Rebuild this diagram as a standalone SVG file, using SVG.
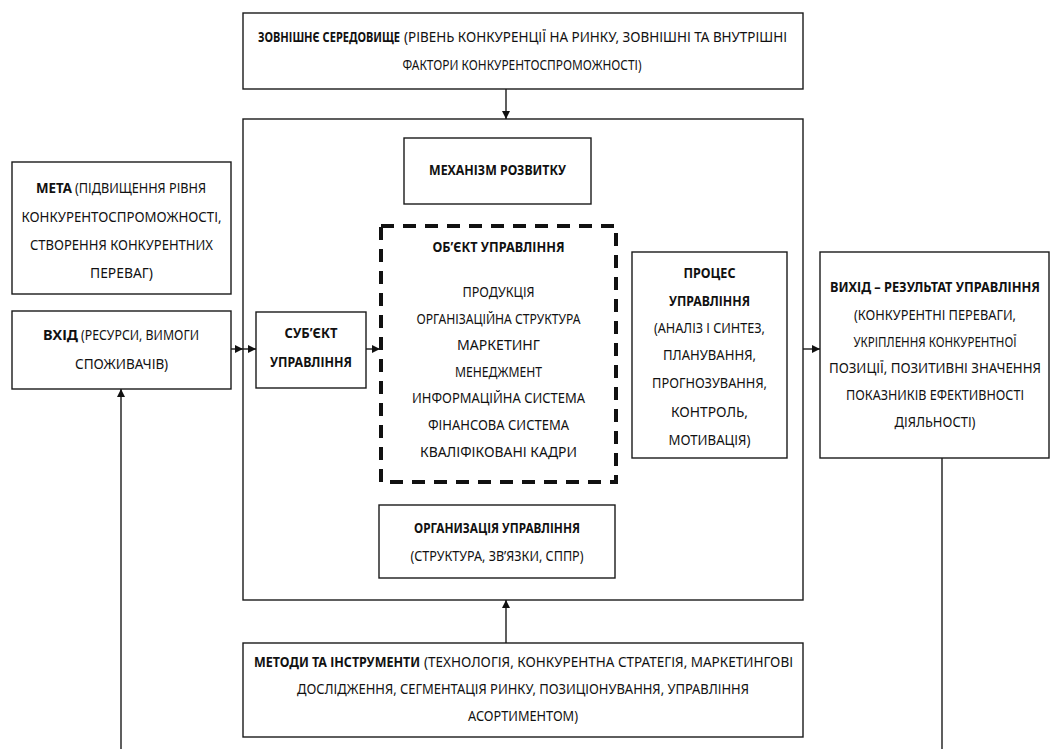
<svg xmlns="http://www.w3.org/2000/svg" width="1053" height="749" viewBox="0 0 1053 749">
<defs>
<style>
.box{fill:#fff;stroke:#1a1a1a;stroke-width:1.4}
.dash{fill:none;stroke:#111;stroke-width:4;stroke-dasharray:13 9}
.ln{fill:none;stroke:#1a1a1a;stroke-width:1.4}
text{font-family:"Noto Sans","DejaVu Sans Condensed",sans-serif;font-stretch:condensed;font-size:14px;fill:#111;text-anchor:middle}
.b{font-weight:bold}
.s{text-anchor:start}
</style>
<marker id="ah" viewBox="0 0 10 10" refX="10" refY="5" markerWidth="8" markerHeight="8" markerUnits="userSpaceOnUse" orient="auto">
<path d="M0,0 L10,5 L0,10 z" fill="#111"/>
</marker>
</defs>
<rect width="1053" height="749" fill="#fff"/>

<g id="main">
<rect class="box" x="243" y="119" width="560" height="481"/>
</g>

<g id="env">
<rect class="box" x="243" y="13" width="560" height="76"/>
<text class="b s" transform="translate(258,42) scale(0.78,1)" x="0" y="0" textLength="182" lengthAdjust="spacingAndGlyphs">ЗОВНІШНЄ СЕРЕДОВИЩЕ</text>
<text class="s" x="404" y="42" textLength="383" lengthAdjust="spacingAndGlyphs">(РІВЕНЬ КОНКУРЕНЦІЇ НА РИНКУ, ЗОВНІШНІ ТА ВНУТРІШНІ</text>
<text x="522" y="70" textLength="239" lengthAdjust="spacingAndGlyphs">ФАКТОРИ КОНКУРЕНТОСПРОМОЖНОСТІ)</text>
</g>

<g id="goal">
<rect class="box" x="12" y="162" width="219" height="132"/>
<text class="b s" x="36" y="193" textLength="36" lengthAdjust="spacingAndGlyphs">МЕТА</text>
<text class="s" x="75" y="193" textLength="131" lengthAdjust="spacingAndGlyphs">(ПІДВИЩЕННЯ РІВНЯ</text>
<text x="121.5" y="222" textLength="200" lengthAdjust="spacingAndGlyphs">КОНКУРЕНТОСПРОМОЖНОСТІ,</text>
<text x="121.5" y="250" textLength="183" lengthAdjust="spacingAndGlyphs">СТВОРЕННЯ КОНКУРЕНТНИХ</text>
<text x="121.5" y="278" textLength="63" lengthAdjust="spacingAndGlyphs">ПЕРЕВАГ)</text>
</g>

<g id="input">
<rect class="box" x="12" y="311" width="219" height="78"/>
<text class="b s" x="43" y="340" textLength="35" lengthAdjust="spacingAndGlyphs">ВХІД</text>
<text class="s" x="81" y="340" textLength="118" lengthAdjust="spacingAndGlyphs">(РЕСУРСИ, ВИМОГИ</text>
<text x="121.5" y="369" textLength="93" lengthAdjust="spacingAndGlyphs">СПОЖИВАЧІВ)</text>
</g>

<g id="mechanism">
<rect class="box" x="404" y="138" width="187" height="66"/>
<text class="b" x="497.5" y="175" textLength="137" lengthAdjust="spacingAndGlyphs">МЕХАНІЗМ РОЗВИТКУ</text>
</g>

<g id="subject">
<rect class="box" x="256" y="312" width="110" height="76"/>
<text class="b" x="311" y="338" textLength="53" lengthAdjust="spacingAndGlyphs">СУБ’ЄКТ</text>
<text class="b" x="311" y="367" textLength="82" lengthAdjust="spacingAndGlyphs">УПРАВЛІННЯ</text>
</g>

<g id="object">
<rect class="dash" x="381" y="226" width="235" height="256"/>
<text class="b" x="498.5" y="252" textLength="132" lengthAdjust="spacingAndGlyphs">ОБ’ЄКТ УПРАВЛІННЯ</text>
<text x="498.5" y="297" textLength="72" lengthAdjust="spacingAndGlyphs">ПРОДУКЦІЯ</text>
<text x="498.5" y="324" textLength="164" lengthAdjust="spacingAndGlyphs">ОРГАНІЗАЦІЙНА СТРУКТУРА</text>
<text x="498.5" y="350" textLength="83" lengthAdjust="spacingAndGlyphs">МАРКЕТИНГ</text>
<text x="498.5" y="377" textLength="87" lengthAdjust="spacingAndGlyphs">МЕНЕДЖМЕНТ</text>
<text x="498.5" y="403" textLength="173" lengthAdjust="spacingAndGlyphs">ИНФОРМАЦІЙНА СИСТЕМА</text>
<text x="498.5" y="430" textLength="141" lengthAdjust="spacingAndGlyphs">ФІНАНСОВА СИСТЕМА</text>
<text x="498.5" y="457" textLength="157" lengthAdjust="spacingAndGlyphs">КВАЛІФІКОВАНІ КАДРИ</text>
</g>

<g id="process">
<rect class="box" x="632" y="252" width="155" height="206"/>
<text class="b" x="709.5" y="278" textLength="52" lengthAdjust="spacingAndGlyphs">ПРОЦЕС</text>
<text class="b" x="709.5" y="306" textLength="81" lengthAdjust="spacingAndGlyphs">УПРАВЛІННЯ</text>
<text x="709.5" y="333" textLength="111" lengthAdjust="spacingAndGlyphs">(АНАЛІЗ І СИНТЕЗ,</text>
<text x="709.5" y="360" textLength="93" lengthAdjust="spacingAndGlyphs">ПЛАНУВАННЯ,</text>
<text x="709.5" y="388" textLength="115" lengthAdjust="spacingAndGlyphs">ПРОГНОЗУВАННЯ,</text>
<text x="709.5" y="417" textLength="77" lengthAdjust="spacingAndGlyphs">КОНТРОЛЬ,</text>
<text x="709.5" y="445" textLength="82" lengthAdjust="spacingAndGlyphs">МОТИВАЦІЯ)</text>
</g>

<g id="output">
<rect class="box" x="820" y="252" width="229" height="206"/>
<text class="b" transform="translate(935,292) scale(0.913,1)" x="0" y="0" textLength="230" lengthAdjust="spacingAndGlyphs">ВИХІД – РЕЗУЛЬТАТ УПРАВЛІННЯ</text>
<text x="935" y="320" textLength="162" lengthAdjust="spacingAndGlyphs">(КОНКУРЕНТНІ ПЕРЕВАГИ,</text>
<text x="935" y="347" textLength="163" lengthAdjust="spacingAndGlyphs">УКРІПЛЕННЯ КОНКУРЕНТНОЇ</text>
<text x="935" y="373" textLength="212" lengthAdjust="spacingAndGlyphs">ПОЗИЦІЇ, ПОЗИТИВНІ ЗНАЧЕННЯ</text>
<text x="935" y="400" textLength="178" lengthAdjust="spacingAndGlyphs">ПОКАЗНИКІВ ЕФЕКТИВНОСТІ</text>
<text x="935" y="427" textLength="81" lengthAdjust="spacingAndGlyphs">ДІЯЛЬНОСТІ)</text>
</g>

<g id="organization">
<rect class="box" x="379" y="505" width="236" height="73"/>
<text class="b" x="497" y="533" textLength="166" lengthAdjust="spacingAndGlyphs">ОРГАНИЗАЦІЯ УПРАВЛІННЯ</text>
<text x="497" y="561" textLength="173" lengthAdjust="spacingAndGlyphs">(СТРУКТУРА, ЗВ’ЯЗКИ, СППР)</text>
</g>

<g id="methods">
<rect class="box" x="243" y="643" width="560" height="94"/>
<text class="b s" transform="translate(254,667) scale(0.888,1)" x="0" y="0" textLength="187" lengthAdjust="spacingAndGlyphs">МЕТОДИ ТА ІНСТРУМЕНТИ</text>
<text class="s" x="424" y="667" textLength="369" lengthAdjust="spacingAndGlyphs">(ТЕХНОЛОГІЯ, КОНКУРЕНТНА СТРАТЕГІЯ, МАРКЕТИНГОВІ</text>
<text x="523" y="694" textLength="452" lengthAdjust="spacingAndGlyphs">ДОСЛІДЖЕННЯ, СЕГМЕНТАЦІЯ РИНКУ, ПОЗИЦІОНУВАННЯ, УПРАВЛІННЯ</text>
<text x="523" y="721" textLength="110" lengthAdjust="spacingAndGlyphs">АСОРТИМЕНТОМ)</text>
</g>

<g id="connectors">
<line class="ln" x1="506" y1="89" x2="506" y2="119" marker-end="url(#ah)"/>
<line class="ln" x1="231" y1="349" x2="243" y2="349" marker-end="url(#ah)"/>
<line class="ln" x1="243" y1="349" x2="256" y2="349" marker-end="url(#ah)"/>
<line class="ln" x1="366" y1="349" x2="380" y2="349" marker-end="url(#ah)"/>
<line class="ln" x1="803" y1="349" x2="820" y2="349" marker-end="url(#ah)"/>
<line class="ln" x1="506" y1="643" x2="506" y2="600" marker-end="url(#ah)"/>
<line class="ln" x1="121" y1="749" x2="121" y2="389" marker-end="url(#ah)"/>
<line class="ln" x1="942" y1="458" x2="942" y2="749"/>
</g>
</svg>
